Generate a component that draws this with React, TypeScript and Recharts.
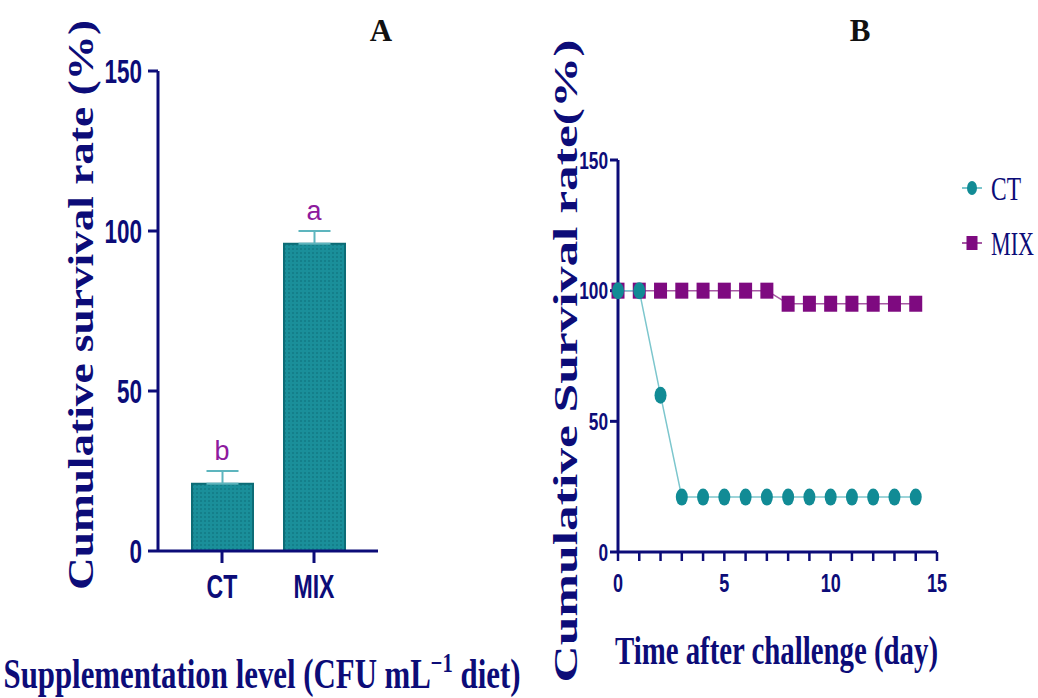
import { Bar, BarChart, Customized, ErrorBar, Label, Legend, Line, LineChart, ReferenceDot, XAxis, YAxis } from "recharts";

const NAVY = "#0c0c78";
const SANS = "'Liberation Sans', Arial, sans-serif";
const SERIF = "'Liberation Serif', 'Times New Roman', serif";

// panel A
const groups = ["CT", "MIX"];
const survivalMean = [21, 96];
const survivalErr = [4, 4];
const groupLetters = ["b", "a"];
const survivalTicks = [0, 50, 100, 150];

// panel B
const days = [0, 1, 2, 3, 4, 5, 6, 7, 8, 9, 10, 11, 12, 13, 14];
const ctDaily = [100, 100, 60, 21, 21, 21, 21, 21, 21, 21, 21, 21, 21, 21, 21];
const mixDaily = [100, 100, 100, 100, 100, 100, 100, 100, 95, 95, 95, 95, 95, 95, 95];
const dayTicks = [0, 1, 2, 3, 4, 5, 6, 7, 8, 9, 10, 11, 12, 13, 14, 15];

const barData = groups.map((g, i) => ({ group: g, mean: survivalMean[i], err: [0, survivalErr[i]] }));
const lineData = days.map((d, i) => ({ day: d, CT: ctDaily[i], MIX: mixDaily[i] }));

const seriesStyle: Record<string, { line: string; mark: string; textW: number }> = {
  CT: { line: "#7cc6cd", mark: "#118b95", textW: 30 },
  MIX: { line: "#a65aa3", mark: "#7e0a80", textW: 43 },
};

// narrow bold tick text; the source figure is squeezed horizontally
function narrowTick(size: number, squeeze: number, dy: string, onlyFives = false) {
  return (p: any) => {
    const { x, y, payload, textAnchor } = p;
    if (onlyFives && payload.value % 5 !== 0) return <g />;
    return (
      <text
        transform={`translate(${x},${y}) scale(${squeeze},1)`}
        textAnchor={textAnchor}
        dy={dy}
        fill={NAVY}
        fontFamily={SANS}
        fontWeight={700}
        fontSize={size}
      >
        {payload.value}
      </text>
    );
  };
}

function VTitle({ x, y, len, size, text }: { x: number; y: number; len: number; size: number; text: string }) {
  return (
    <text
      transform={`translate(${x},${y}) rotate(-90)`}
      textAnchor="middle"
      textLength={len}
      lengthAdjust="spacingAndGlyphs"
      fill={NAVY}
      fontFamily={SERIF}
      fontWeight={700}
      fontSize={size}
    >
      {text}
    </text>
  );
}

function CtDot(props: any) {
  const { cx, cy } = props;
  return <ellipse cx={cx} cy={cy} rx={6} ry={8.5} fill={seriesStyle.CT.mark} />;
}

function MixDot(props: any) {
  const { cx, cy } = props;
  return <rect x={cx - 6.5} y={cy - 8} width={13} height={16} fill={seriesStyle.MIX.mark} />;
}

function SeriesLegend() {
  return (
    <svg width={78} height={90}>
      {groups.map((g, i) => (
        <g key={g} transform={`translate(0,${i * 55})`}>
          <line x1={2} x2={22} y1={22} y2={22} stroke={seriesStyle[g].line} strokeWidth={2} />
          {g === "CT" ? (
            <ellipse cx={12} cy={22} rx={5} ry={7} fill={seriesStyle[g].mark} />
          ) : (
            <rect x={6.5} y={15} width={11} height={14} fill={seriesStyle[g].mark} />
          )}
          <text
            x={31}
            y={22}
            dy="0.36em"
            textLength={seriesStyle[g].textW}
            lengthAdjust="spacingAndGlyphs"
            fill={NAVY}
            fontFamily={SERIF}
            fontSize={33}
          >
            {g}
          </text>
        </g>
      ))}
    </svg>
  );
}

export default function App() {
  return (
    <div style={{ position: "absolute", left: 0, top: 0, width: 1038, height: 698, background: "#fff" }}>
      <div style={{ position: "absolute", left: 0, top: 0 }}>
        <BarChart width={540} height={698} data={barData} margin={{ top: 71, right: 162, bottom: 87, left: 98 }}>
          <defs>
            <pattern id="hatch" width={4} height={4} patternUnits="userSpaceOnUse">
              <rect width={4} height={4} fill="#1a8f9a" />
              <rect width={2} height={2} fill="#147f8a" />
            </pattern>
          </defs>
          <XAxis
            dataKey="group"
            height={60}
            padding={{ left: 18, right: 18 }}
            axisLine={{ stroke: NAVY, strokeWidth: 3 }}
            tickLine={{ stroke: NAVY, strokeWidth: 3 }}
            tickSize={12}
            tickMargin={12}
            tick={narrowTick(33, 0.7, "0.71em")}
          >
            <Label
              content={(p: any) => (
                <text
                  x={p.viewBox.x + p.viewBox.width / 2 - 6}
                  y={688}
                  textAnchor="middle"
                  textLength={517}
                  lengthAdjust="spacingAndGlyphs"
                  fill={NAVY}
                  fontFamily={SERIF}
                  fontWeight={700}
                  fontSize={42}
                >
                  Supplementation level (CFU mL
                  <tspan dy={-16} fontSize={28}>−1</tspan>
                  <tspan dy={16}> diet)</tspan>
                </text>
              )}
            />
          </XAxis>
          <YAxis
            width={60}
            domain={[0, 150]}
            ticks={survivalTicks}
            interval={0}
            axisLine={{ stroke: NAVY, strokeWidth: 3 }}
            tickLine={{ stroke: NAVY, strokeWidth: 3 }}
            tickSize={10}
            tickMargin={6}
            tick={narrowTick(33, 0.68, "0.36em")}
          >
            <Label
              content={(p: any) => (
                <VTitle
                  x={p.viewBox.x - 5}
                  y={p.viewBox.y + p.viewBox.height / 2 - 6}
                  len={570}
                  size={35}
                  text="Cumulative survival rate (%)"
                />
              )}
            />
          </YAxis>
          <Bar dataKey="mean" barSize={61} fill="url(#hatch)" stroke="#0d6c76" strokeWidth={2} isAnimationActive={false}>
            <ErrorBar dataKey="err" width={16} stroke="#5db5be" strokeWidth={2} direction="y" />
          </Bar>
          {groups.map((g, i) => (
            <ReferenceDot
              key={g}
              x={g}
              y={survivalMean[i] + survivalErr[i]}
              r={0}
              ifOverflow="visible"
              label={{ value: groupLetters[i], position: "top", offset: 11, fill: "#8e1a9e", fontSize: 27, fontFamily: SANS }}
            />
          ))}
          <Customized
            component={() => (
              <text x={381} y={41} textAnchor="middle" fill="#111" fontFamily={SERIF} fontWeight={700} fontSize={31}>
                A
              </text>
            )}
          />
        </BarChart>
      </div>

      <div style={{ position: "absolute", left: 525, top: 0 }}>
        <LineChart width={513} height={698} data={lineData} margin={{ top: 160, right: 101, bottom: 86, left: 33 }}>
          <XAxis
            dataKey="day"
            type="number"
            domain={[0, 15]}
            ticks={dayTicks}
            interval={0}
            height={60}
            axisLine={{ stroke: NAVY, strokeWidth: 3 }}
            tickLine={{ stroke: NAVY, strokeWidth: 2.5 }}
            tickSize={9}
            tickMargin={13}
            tick={narrowTick(25, 0.72, "0.71em", true)}
          >
            <Label
              content={(p: any) => (
                <text
                  x={p.viewBox.x + p.viewBox.width / 2 - 1}
                  y={664}
                  textAnchor="middle"
                  textLength={323}
                  lengthAdjust="spacingAndGlyphs"
                  fill={NAVY}
                  fontFamily={SERIF}
                  fontWeight={700}
                  fontSize={40}
                >
                  Time after challenge (day)
                </text>
              )}
            />
          </XAxis>
          <YAxis
            width={60}
            domain={[0, 150]}
            ticks={survivalTicks}
            interval={0}
            axisLine={{ stroke: NAVY, strokeWidth: 3 }}
            tickLine={{ stroke: NAVY, strokeWidth: 3 }}
            tickSize={8}
            tickMargin={2}
            tick={narrowTick(24, 0.72, "0.36em")}
          >
            <Label
              content={(p: any) => (
                <VTitle
                  x={p.viewBox.x + 19}
                  y={361}
                  len={643}
                  size={33}
                  text="Cumulative Survival rate(%)"
                />
              )}
            />
          </YAxis>
          <Line
            dataKey="MIX"
            stroke={seriesStyle.MIX.line}
            strokeWidth={1.5}
            dot={<MixDot />}
            activeDot={false}
            isAnimationActive={false}
          />
          <Line
            dataKey="CT"
            stroke={seriesStyle.CT.line}
            strokeWidth={1.5}
            dot={<CtDot />}
            activeDot={false}
            isAnimationActive={false}
          />
          <Legend
            layout="vertical"
            align="center"
            verticalAlign="middle"
            wrapperStyle={{ left: 435, top: 166, width: 78 }}
            content={() => <SeriesLegend />}
          />
          <Customized
            component={() => (
              <text x={335} y={41} textAnchor="middle" fill="#111" fontFamily={SERIF} fontWeight={700} fontSize={31}>
                B
              </text>
            )}
          />
        </LineChart>
      </div>
    </div>
  );
}
